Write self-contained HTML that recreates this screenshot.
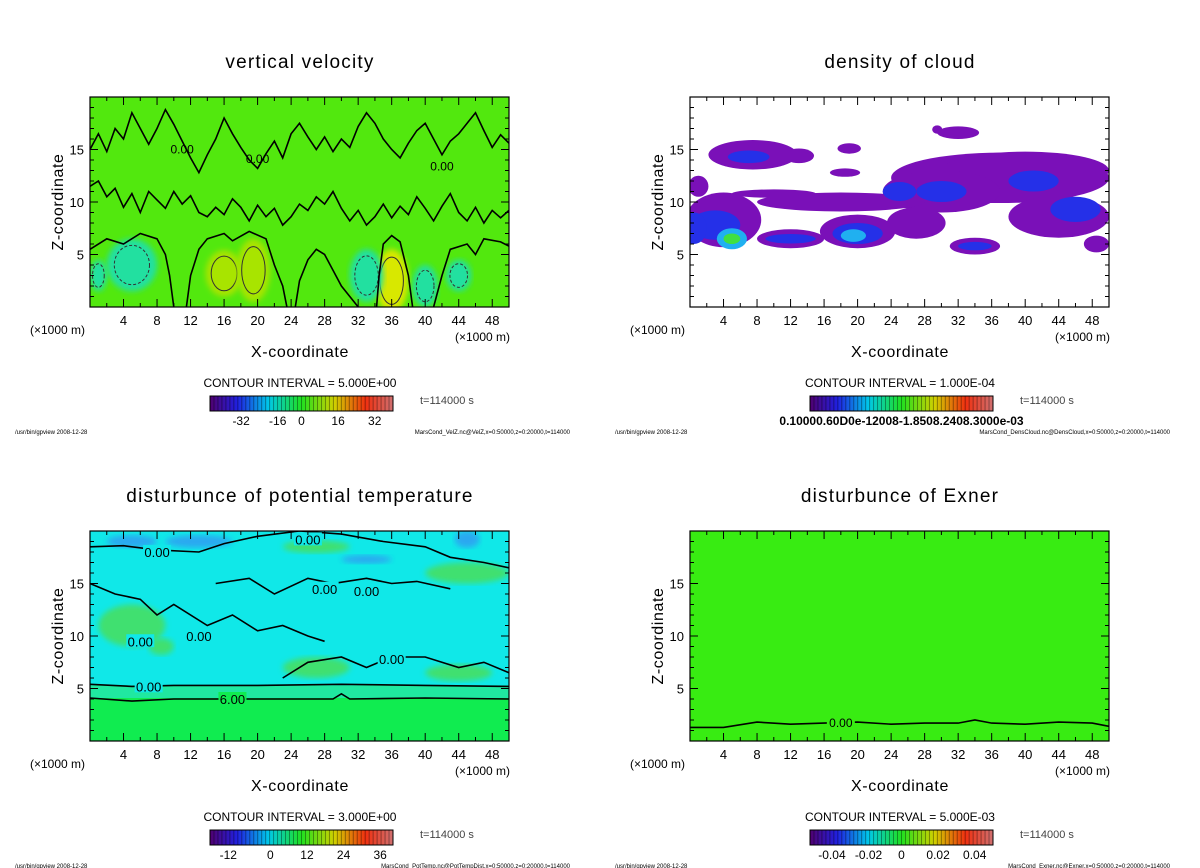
<!DOCTYPE html>
<html><head><meta charset="utf-8"><style>
html,body{margin:0;padding:0;background:#fff;}
svg{display:block;font-family:"Liberation Sans",sans-serif;}
</style></head><body>
<svg id="fig" width="1200" height="868" viewBox="0 0 1200 868" xmlns="http://www.w3.org/2000/svg">
<defs>
<linearGradient id="rainbow" x1="0" x2="1" y1="0" y2="0">
<stop offset="0" stop-color="#500070"/><stop offset="0.15" stop-color="#2020e0"/><stop offset="0.32" stop-color="#00c8e8"/><stop offset="0.5" stop-color="#20e020"/><stop offset="0.68" stop-color="#d0d000"/><stop offset="0.85" stop-color="#f03010"/><stop offset="1" stop-color="#d07070"/>
</linearGradient>
<filter id="blur3"><feGaussianBlur stdDeviation="3"/></filter>
</defs>
</svg>
<script>
// ---- data ----
const xTicks = [4,8,12,16,20,24,28,32,36,40,44,48];
const zTicks = [5,10,15];
const titles = ["vertical velocity","density of cloud","disturbunce of potential temperature","disturbunce of Exner"];
const intervals = ["CONTOUR INTERVAL = 5.000E+00","CONTOUR INTERVAL = 1.000E-04","CONTOUR INTERVAL = 3.000E+00","CONTOUR INTERVAL = 5.000E-03"];
const footRight = ["MarsCond_VelZ.nc@VelZ,x=0:50000,z=0:20000,t=114000","MarsCond_DensCloud.nc@DensCloud,x=0:50000,z=0:20000,t=114000","MarsCond_PotTemp.nc@PotTempDist,x=0:50000,z=0:20000,t=114000","MarsCond_Exner.nc@Exner,x=0:50000,z=0:20000,t=114000"];
const cbLabels = [["-32","-16","0","16","32"],["0.10000.60D0e-12008-1.8508.2408.3000e-03"],["-12","0","12","24","36"],["-0.04","-0.02","0","0.02","0.04"]];
const cbLabelFrac = [[0.17,0.37,0.5,0.7,0.9],[0.5],[0.1,0.33,0.53,0.73,0.93],[0.12,0.32,0.5,0.7,0.9]];
// velocity blobs: x, z, rx, rz, value
const velBlobs = [[16,3.2,2.2,2.2,8],[19.5,3.5,2,3,8],[36,2.5,2,3,14],[5,4,3,2.5,-6],[33,3,2,2.5,-6],[40,2,1.5,2,-5],[44,3,1.5,1.5,-5],[1,3,1,1.5,-3]];
// velocity contour lines (x,z pairs)
const velLine1 = [[0,11.5],[1,12],[2,10.5],[3,11.3],[4,9.5],[5,10.8],[6,9],[7,11],[8,10.2],[9,9.4],[10,11],[11,9.8],[12,10.6],[13,9],[14,8.6],[15,9.5],[16,8.8],[17,10.3],[18,9.5],[19,8.2],[20,9.7],[21,8.6],[22,9.4],[23,7.8],[24,8.6],[25,9.8],[26,9.2],[27,10.5],[28,9.8],[29,11],[30,9.4],[31,8.2],[32,9.2],[33,7.8],[34,8.6],[35,9.8],[36,8.5],[37,9.6],[38,8.8],[39,10.5],[40,9.4],[41,8.2],[42,9.6],[43,10.8],[44,9],[45,8.2],[46,9.5],[47,8],[48,9.2],[49,8.5],[50,9.2]];
const velLine2 = [[0,15],[1,16.5],[2,14.8],[3,17],[4,16],[5,18.5],[6,17],[7,15.5],[8,17],[9,18.8],[10,17.4],[11,15.8],[12,14.2],[13,12.8],[14,14.5],[15,16],[16,18],[17,16.5],[18,15.2],[19,14],[20,13.2],[21,14.6],[22,15.8],[23,14.2],[24,16.5],[25,17.5],[26,16.2],[27,15],[28,16.2],[29,14.8],[30,16],[31,15.2],[32,17.2],[33,18.5],[34,17.5],[35,16],[36,15],[37,14.2],[38,15.6],[39,16.8],[40,17.5],[41,16],[42,14.5],[43,15.8],[44,16.5],[45,17.5],[46,18.5],[47,16.8],[48,15.2],[49,16.4],[50,15.6]];
const velLine3 = [[11.5,0],[12,3],[13,5.5],[14,6.5],[16,7],[17,6.3],[19,7.2],[21,6.5],[22,4],[23,2],[23.5,0]];
const velLine4 = [[24.5,0],[25,2.5],[26,4.5],[27,5.5],[28,5],[29,3.5],[30,2],[31,1],[32,0]];
const velLine5 = [[34.2,0],[34.5,3],[35,6],[36,6.8],[37,6.2],[38,3],[38.5,0]];
const velLine6 = [[0,5.5],[2,6.5],[4,6],[6,7],[8,6.5],[9,5],[9.5,3],[10,0]];
const velLine7 = [[41,0],[42,3],[43,5.5],[45,6],[46,5],[47,6.5],[49,6.2],[50,5.8]];
// cloud blobs: x, z, rx, rz, level(0 purple ..3 green)
const cloudBlobs = [[7.5,14.5,5.3,1.4,0],[7,14.3,2.5,0.6,1],[13,14.4,1.8,0.7,0],[19,15.1,1.4,0.5,0],[32,16.6,2.5,0.6,0],[29.5,16.9,0.6,0.4,0],[18.5,12.8,1.8,0.4,0],[37,12.3,13,2.4,0],[40,13,10,1.8,0],[30,11,7,2,0],[30,11,3,1,1],[41,12,3,1,1],[18,10,10,0.9,0],[10,10.8,5,0.4,0],[4,8.3,4.5,2.6,0],[3,7.8,3,1.4,1],[5,6.5,1.8,1,2],[5,6.5,1,0.5,3],[12,6.5,4,0.9,0],[12,6.5,3,0.45,1],[20,7.2,4.5,1.6,0],[20,7,3,1,1],[19.5,6.8,1.5,0.6,2],[34,5.8,3,0.8,0],[34,5.8,2,0.4,1],[44,8.6,6,2,0],[46,9.3,3,1.2,1],[27,8,3.5,1.5,0],[25,11,2,0.9,1],[48.5,6,1.5,0.8,0],[1,11.5,1.2,1,0],[0.5,7.5,1.5,1.5,1]];
const cloudColors = ["#7a10b8","#2530e8","#20b0f0","#40e040"];
// potential temperature patches: x, z, rx, rz, value
const ptBlobs = [[5,19,3,0.6,-3],[13,19,4,0.6,-3],[45,19.2,1.5,0.8,-4],[27,18.5,4,0.6,4],[45,16,5,1,3],[5,11,4,2,2],[8.5,9,1.5,0.8,4],[27,7,4,1,2],[44,6.5,4,0.8,2],[33,17.3,3,0.4,-3]];
const ptLine0 = [[0,18.5],[4,18.6],[8,18.2],[13,18],[16,18.8],[20,19.5],[25,20],[30,19.7],[35,19],[40,18.5],[43,17.5],[47,17],[50,16.5]];
const ptLine1 = [[0,15],[3,14],[6,13.5],[8,12],[10,13],[14,11],[17,12],[20,10.5],[23,11],[26,10],[28,9.5]];
const ptLine2 = [[15,15],[19,15.5],[22,14],[26,15.5],[29,15],[33,15.5],[36,15],[39,15.2],[43,14.5]];
const ptLine3 = [[23,6],[26,7.5],[30,8],[33,7],[36,8],[40,8],[44,7],[47,7.5],[50,6.5]];
const ptZero = [[0,5.4],[5,5.2],[10,5.3],[20,5.3],[30,5.4],[40,5.3],[50,5.2]];
const ptSix = [[0,4.1],[5,3.8],[10,4],[20,4],[29,4],[30,4.5],[31,4],[40,4.1],[50,4]];
const exLine = [[0,1.3],[4,1.3],[8,1.8],[12,1.6],[16,1.7],[20,1.8],[24,1.6],[28,1.7],[32,1.7],[34,2],[36,1.7],[40,1.6],[44,1.8],[48,1.7],[50,1.4]];

// ---- drawing ----
const NS = "http://www.w3.org/2000/svg";
const svg = document.getElementById('fig');
function mk(tag, attrs, parent){ const e=document.createElementNS(NS,tag); for(const k in attrs) e.setAttribute(k,attrs[k]); (parent||svg).appendChild(e); return e; }
const offs = [[0,0],[600,0],[0,434],[600,434]];
const PX0=90, PX1=509, PY0=97, PY1=307;
function sx(o,x){ return o[0]+PX0+(x/50)*(PX1-PX0); }
function sz(o,z){ return o[1]+PY1-(z/20)*(PY1-PY0); }
function sw(x){ return x/50*(PX1-PX0); }
function sh(z){ return z/20*(PY1-PY0); }
function pathOf(o,pts){ return pts.map((p,i)=>(i?'L':'M')+sx(o,p[0]).toFixed(1)+','+sz(o,p[1]).toFixed(1)).join(''); }
function txt(x,y,s,size,anchor,parent,name,extra){ const t=mk('text',Object.assign({x:x,y:y,'font-size':size,'text-anchor':anchor||'middle',fill:'#000'},extra||{}),parent); t.textContent=s;
 
 
 return t; }

const bgColors = ["#52e80e",null,"#10e8e8","#38ec12"];

offs.forEach((o,pi)=>{
 const g = mk('g',{});
 
 
 const clipId='clip'+pi;
 const cp=mk('clipPath',{id:clipId},g); mk('rect',{x:o[0]+PX0,y:o[1]+PY0,width:PX1-PX0,height:PY1-PY0},cp);
 const plot = mk('g',{'clip-path':'url(#'+clipId+')'},g);
 
 
 if(bgColors[pi]) mk('rect',{x:o[0]+PX0,y:o[1]+PY0,width:PX1-PX0,height:PY1-PY0,fill:bgColors[pi]},plot);

 if(pi===0){
  velBlobs.forEach(b=>{
   const col = b[4]>0 ? (b[4]>10?'#d8e800':'#a8e400') : '#20e0a0';
   const el=mk('ellipse',{cx:sx(o,b[0]),cy:sz(o,b[1]),rx:sw(b[2]),ry:sh(b[3]),fill:col,filter:'url(#blur3)'},plot);
   
   
   const c=mk('ellipse',{cx:sx(o,b[0]),cy:sz(o,b[1]),rx:sw(b[2])*0.7,ry:sh(b[3])*0.75,fill:'none',stroke:'#333','stroke-width':1,'stroke-dasharray':b[4]<0?'3,2':'none'},plot);
   
   
  });
  [velLine1,velLine2,velLine3,velLine4,velLine5,velLine6,velLine7].forEach(l=>{
   const p=mk('path',{d:pathOf(o,l),fill:'none',stroke:'#000','stroke-width':1.6},plot);
   
   
  });
  txt(sx(o,11),sz(o,14.6),'0.00',12,'middle',plot,'contour-label');
  txt(sx(o,20),sz(o,13.7),'0.00',12,'middle',plot,'contour-label');
  txt(sx(o,42),sz(o,13),'0.00',12,'middle',plot,'contour-label');
 }
 if(pi===1){
  cloudBlobs.forEach(b=>{
   const el=mk('ellipse',{cx:sx(o,b[0]),cy:sz(o,b[1]),rx:sw(b[2]),ry:sh(b[3]),fill:cloudColors[b[4]]},plot);
   
   
  });
 }
 if(pi===2){
  mk('rect',{x:o[0]+PX0,y:sz(o,4.1),width:PX1-PX0,height:sz(o,0)-sz(o,4.1),fill:'#10ec50'},plot);
  mk('rect',{x:o[0]+PX0,y:sz(o,5.3),width:PX1-PX0,height:sh(1.2),fill:'#20e8a0'},plot);
  ptBlobs.forEach(b=>{
   const col = b[4]<0 ? '#2aa8f0' : '#40e070';
   const el=mk('ellipse',{cx:sx(o,b[0]),cy:sz(o,b[1]),rx:sw(b[2]),ry:sh(b[3]),fill:col,filter:'url(#blur3)'},plot);
   
   
  });
  [ptLine0,ptLine1,ptLine2,ptLine3,ptZero,ptSix].forEach(l=>{
   const p=mk('path',{d:pathOf(o,l),fill:'none',stroke:'#000','stroke-width':1.6},plot);
   
   
  });
  [[8,18,'0.00'],[28,14.5,'0.00'],[33,14.3,'0.00'],[26,19.2,'0.00'],[13,10,'0.00'],[6,9.5,'0.00'],[7,5.2,'0.00'],[36,7.8,'0.00'],[17,4,'6.00']].forEach(l=>{
   mk('rect',{x:sx(o,l[0])-14,y:sz(o,l[1])-7,width:28,height:13,fill:l[2]==='6.00'?'#10ec50':bgColors[2]},plot);
   txt(sx(o,l[0]),sz(o,l[1])+5,l[2],13,'middle',plot,'contour-label');
  });
 }
 if(pi===3){
  const p=mk('path',{d:pathOf(o,exLine),fill:'none',stroke:'#000','stroke-width':1.6},plot);
  
  
  mk('rect',{x:sx(o,18)-14,y:sz(o,1.7)-6,width:28,height:12,fill:bgColors[3]},plot);
  txt(sx(o,18),sz(o,1.7)+4,'0.00',12,'middle',plot,'contour-label');
 }
 // frame
 const fr=mk('rect',{x:o[0]+PX0,y:o[1]+PY0,width:PX1-PX0,height:PY1-PY0,fill:'none',stroke:'#000','stroke-width':1.2},g);
 
 
 // ticks
 xTicks.forEach(t=>{
  const x=sx(o,t);
  mk('line',{x1:x,x2:x,y1:o[1]+PY1,y2:o[1]+PY1-8,stroke:'#000'},g);
  mk('line',{x1:x,x2:x,y1:o[1]+PY0,y2:o[1]+PY0+8,stroke:'#000'},g);
  txt(x,o[1]+325,String(t),13,'middle',g,'x-tick-label');
 });
 for(let t=2;t<50;t+=4){ const x=sx(o,t); mk('line',{x1:x,x2:x,y1:o[1]+PY1,y2:o[1]+PY1-4,stroke:'#000'},g); mk('line',{x1:x,x2:x,y1:o[1]+PY0,y2:o[1]+PY0+4,stroke:'#000'},g); }
 zTicks.forEach(t=>{
  const y=sz(o,t);
  mk('line',{x1:o[0]+PX0,x2:o[0]+PX0+8,y1:y,y2:y,stroke:'#000'},g);
  mk('line',{x1:o[0]+PX1,x2:o[0]+PX1-8,y1:y,y2:y,stroke:'#000'},g);
  txt(o[0]+84,y+5,String(t),13,'end',g,'y-tick-label');
 });
 for(let t=1;t<20;t++){ if(t%5===0)continue; const y=sz(o,t); mk('line',{x1:o[0]+PX0,x2:o[0]+PX0+4,y1:y,y2:y,stroke:'#000'},g); mk('line',{x1:o[0]+PX1,x2:o[0]+PX1-4,y1:y,y2:y,stroke:'#000'},g); }
 // labels
 txt(o[0]+300,o[1]+68,titles[pi],19,'middle',g,'chart-title',{'letter-spacing':'1.2'});
 txt(o[0]+63,o[1]+202,'Z-coordinate',16,'middle',g,'y-axis-title',{transform:'rotate(-90 '+(o[0]+63)+' '+(o[1]+202)+')','letter-spacing':'0.6'});
 txt(o[0]+30,o[1]+334,'(×1000 m)',12,'start',g,'x-unit-left');
 txt(o[0]+455,o[1]+341,'(×1000 m)',12,'start',g,'x-unit-right');
 txt(o[0]+300,o[1]+357,'X-coordinate',16,'middle',g,'x-axis-title',{'letter-spacing':'0.6'});
 txt(o[0]+300,o[1]+387,intervals[pi],12,'middle',g,'contour-interval');
 // colorbar
 const cb=mk('rect',{x:o[0]+210,y:o[1]+396,width:183,height:15,fill:'url(#rainbow)',stroke:'#000','stroke-width':1},g);
 
 
 for(let k=1;k<46;k++){ const x=o[0]+210+k*183/46; mk('line',{x1:x,x2:x,y1:o[1]+396,y2:o[1]+411,stroke:'#000','stroke-opacity':0.45,'stroke-width':0.8},g); }
 cbLabels[pi].forEach((s,i)=>{ txt(o[0]+210+cbLabelFrac[pi][i]*183,o[1]+425,s,pi===1?12:12,'middle',g,'colorbar-label',pi===1?{'font-weight':'bold'}:{}); });
 txt(o[0]+420,o[1]+404,'t=114000 s',11,'start',g,'time-label',{fill:'#444'});
 txt(o[0]+15,o[1]+434,'/usr/bin/gpview  2008-12-28',6,'start',g,'footer-left');
 txt(o[0]+570,o[1]+434,footRight[pi],6,'end',g,'footer-right');
});
</script>
</body></html>
